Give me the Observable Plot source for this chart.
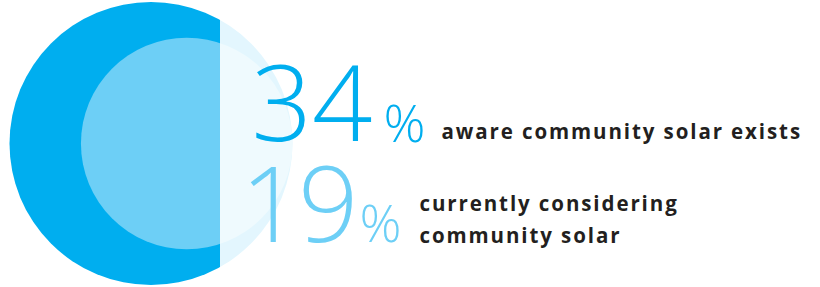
<!DOCTYPE html>
<html>
<head>
<meta charset="utf-8">
<script src="https://cdn.jsdelivr.net/npm/d3@7"></script>
<script src="https://cdn.jsdelivr.net/npm/@observablehq/plot@0.6"></script>
<style>
  html, body { margin: 0; padding: 0; background: #ffffff; }
  #chart svg { display: block; }
  .lbl text { letter-spacing: 1.9px; }
  .num2 text { letter-spacing: -3px; }
</style>
</head>
<body>
<div id="chart"></div>
<script>
// ---- data ----
const metrics = ["aware", "considering"];
const percents = [34, 19];
const labels = [["aware community solar exists"], ["currently considering", "community solar"]];
const colors = ["#00AEEF", "#6DCFF6"];

// ---- layout ----
const W = 820, H = 287;
const rMax = 141.5;          // radius for the largest value
const rightEdge = 292;       // circles share a right tangent point
const cy = 143;
const splitX = 220;          // right part is veiled
const rOf = v => rMax * Math.sqrt(v / d3.max(percents));

const circles = percents.map((v, i) => ({
  metric: metrics[i], value: v, color: colors[i], cx: rightEdge - rOf(v)
}));

const numRows = [
  {text: String(percents[0]), x: 251, y: 140, color: colors[0]},
  {text: String(percents[1]), x: 240, y: 241, color: colors[1]}
];
const pctRows = [
  {x: 383, y: 141, color: colors[0]},
  {x: 359, y: 241, color: colors[1]}
];
const lblRows = [
  {text: labels[0].join("\n"), x: 441, y: 128},
  {text: labels[1].join("\n"), x: 419, y: 216}
];

const numStyle = {x: "x", y: "y", text: "text", fill: "color", textAnchor: "start", lineAnchor: "bottom",
  fontSize: 106, fontWeight: 300, fontFamily: "'Open Sans', sans-serif"};

const chart = Plot.plot({
  width: W, height: H,
  margin: 0,
  x: {domain: [0, W], range: [0, W], axis: null},
  y: {domain: [0, H], range: [0, H], axis: null},
  r: {type: "sqrt", domain: [0, d3.max(percents)], range: [0, rMax]},
  marks: [
    Plot.dot(circles, {x: "cx", y: () => cy, r: "value", fill: "color", stroke: null}),
    Plot.rect([0], {x1: splitX, x2: rightEdge + 2, y1: 0, y2: H, fill: "white", fillOpacity: 0.89}),
    Plot.text(numRows.slice(0, 1), {...numStyle, className: "num1"}),
    Plot.text(numRows.slice(1), {...numStyle, className: "num2"}),
    Plot.text(pctRows, {x: "x", y: "y", text: () => "%", fill: "color", textAnchor: "start", lineAnchor: "bottom",
      fontSize: 52, fontWeight: 300, fontFamily: "'Open Sans', sans-serif"}),
    Plot.text(lblRows, {x: "x", y: "y", text: "text", fill: "#231F20", textAnchor: "start", lineAnchor: "middle",
      fontSize: 20.5, fontWeight: 700, lineHeight: 1.6, fontFamily: "'Open Sans', sans-serif", className: "lbl"})
  ]
});
document.getElementById("chart").appendChild(chart);
</script>
</body>
</html>
